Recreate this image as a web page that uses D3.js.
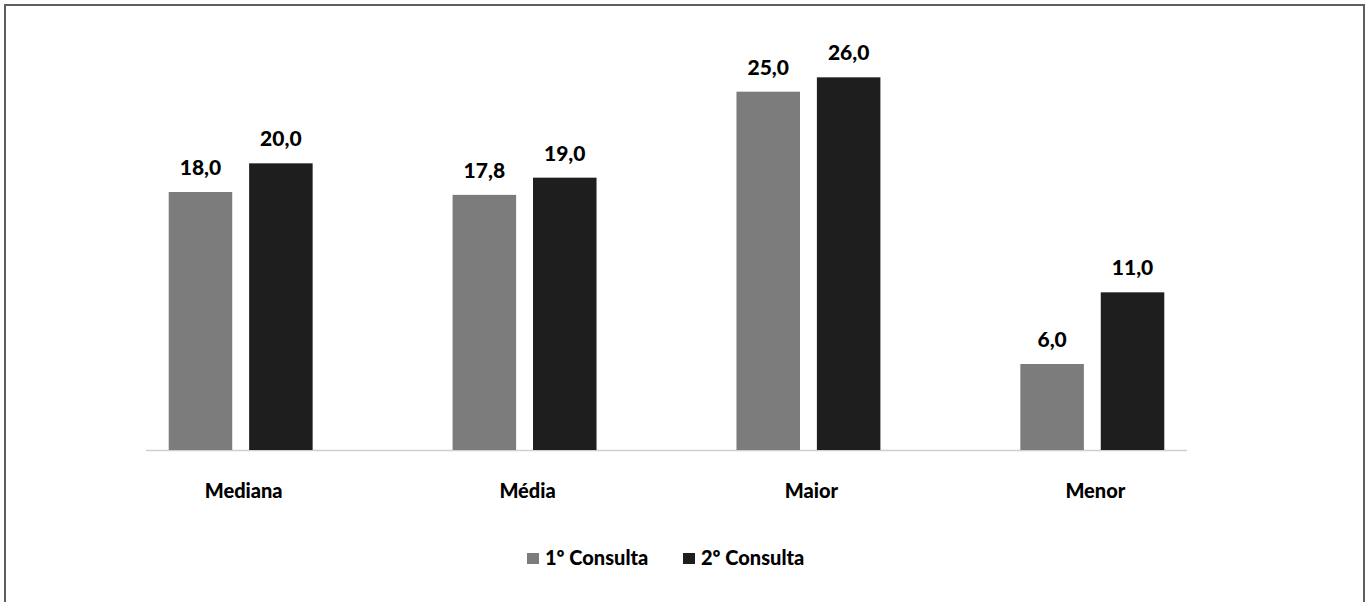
<!DOCTYPE html>
<html>
<head>
<meta charset="utf-8">
<script src="https://cdn.jsdelivr.net/npm/d3@7"></script>
<style>
  html, body { margin: 0; padding: 0; background: #fff; }
  svg { display: block; }
  text { font-family: Lato, "Open Sans", sans-serif; font-weight: 900; fill: #000; }
</style>
</head>
<body>
<svg id="chart" width="1371" height="602"></svg>
<script>
const categories = ["Mediana", "Média", "Maior", "Menor"];
const seriesNames = ["1º Consulta", "2º Consulta"];
const consulta1 = [18.0, 17.8, 25.0, 6.0];
const consulta2 = [20.0, 19.0, 26.0, 11.0];
const seriesColors = ["#7c7c7c", "#1e1e1e"];

const svg = d3.select("#chart");

// outer border
svg.append("rect")
  .attr("x", 5).attr("y", 5)
  .attr("width", 1359).attr("height", 610)
  .attr("fill", "none").attr("stroke", "#5e5e5e").attr("stroke-width", 2);

const x0 = d3.scaleBand().domain(categories).range([146, 1187])
  .paddingInner(0.493).paddingOuter(0.08);
const x1 = d3.scaleBand().domain(seriesNames).range([0, x0.bandwidth()])
  .paddingInner(0.21);
const y = d3.scaleLinear().domain([0, 30]).range([450, 20]);

const data = categories.map((c, i) => ({
  cat: c,
  vals: [
    { s: seriesNames[0], v: consulta1[i], color: seriesColors[0] },
    { s: seriesNames[1], v: consulta2[i], color: seriesColors[1] }
  ]
}));

// baseline
svg.append("line")
  .attr("x1", x0.range()[0]).attr("x2", x0.range()[1])
  .attr("y1", y(0) + 0.5).attr("y2", y(0) + 0.5)
  .attr("stroke", "#cfcfcf").attr("stroke-width", 1.5);

const groups = svg.selectAll("g.cat").data(data).enter().append("g")
  .attr("class", "cat")
  .attr("transform", d => `translate(${x0(d.cat)},0)`);

groups.selectAll("rect").data(d => d.vals).enter().append("rect")
  .attr("x", d => x1(d.s))
  .attr("y", d => y(d.v))
  .attr("width", x1.bandwidth())
  .attr("height", d => y(0) - y(d.v))
  .attr("fill", d => d.color);

const fmt = v => v.toFixed(1).replace(".", ",");
groups.selectAll("text.val").data(d => d.vals).enter().append("text")
  .attr("class", "val")
  .attr("x", d => x1(d.s) + x1.bandwidth() / 2)
  .attr("y", d => y(d.v) - 17)
  .attr("text-anchor", "middle")
  .style("font-size", "21px")
  .text(d => fmt(d.v));

// category labels
svg.selectAll("text.catlab").data(categories).enter().append("text")
  .attr("class", "catlab")
  .attr("x", d => x0(d) + x0.bandwidth() / 2 + 3)
  .attr("y", 498)
  .attr("text-anchor", "middle")
  .style("font-size", "20px")
  .text(d => d);

// legend
const legendItems = [
  { name: seriesNames[0], color: seriesColors[0], x: 527 },
  { name: seriesNames[1], color: seriesColors[1], x: 683 }
];
const lg = svg.selectAll("g.leg").data(legendItems).enter().append("g")
  .attr("class", "leg")
  .attr("transform", d => `translate(${d.x},0)`);
lg.append("rect").attr("x", 0).attr("y", 553).attr("width", 12).attr("height", 11)
  .attr("fill", d => d.color);
lg.append("text").attr("x", 18).attr("y", 565)
  .style("font-size", "20px")
  .text(d => d.name);
</script>
</body>
</html>
